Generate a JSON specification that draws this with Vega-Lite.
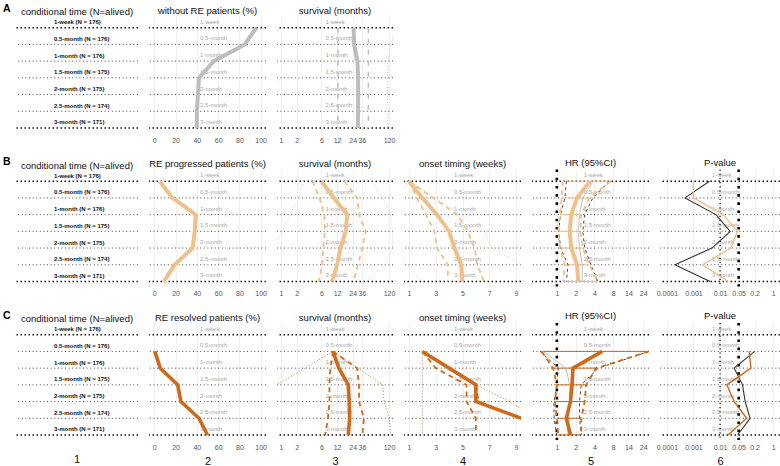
{
"$schema":"https://vega.github.io/schema/vega-lite/v6.json",
"padding":{"left":2,"top":3,"right":0,"bottom":0},
"config":{"font":"Liberation Sans","view":{"stroke":null},
"axisX":{"domain":false,"ticks":false,"grid":true,"gridColor":"#e4e4e4","gridWidth":0.6,"labelFontSize":7,"labelColor":"#555","labelPadding":3,"labelOverlap":false,"labelFlush":false,"tickCount":12,"titleFontSize":11,"titleFontWeight":"normal","titleColor":"#111","titlePadding":5},
"title":{"fontSize":9.5,"fontWeight":"normal","color":"#111","offset":1,"frame":"group"}},
"datasets":{
"cats":[{"k":1,"c":"1-week","n":"1-week (N = 176)"},{"k":2,"c":"0.5-month","n":"0.5-month (N = 176)"},{"k":3,"c":"1-month","n":"1-month (N = 176)"},{"k":4,"c":"1.5-month","n":"1.5-month (N = 175)"},{"k":5,"c":"2-month","n":"2-month (N = 175)"},{"k":6,"c":"2.5-month","n":"2.5-month (N = 174)"},{"k":7,"c":"3-month","n":"3-month (N = 171)"}],
"A_pct":[{"k":1,"e":96},{"k":2,"e":85},{"k":3,"e":56},{"k":4,"e":42},{"k":5,"e":41},{"k":6,"e":40},{"k":7,"e":40}],
"A_surv":[{"k":1,"e":25,"lo":12.5,"hi":48,"mn":0.95,"mx":150},{"k":2,"e":25.5,"lo":12.5,"hi":48,"mn":0.5,"mx":135},{"k":3,"e":29.5,"lo":12.5,"hi":48,"mn":0.5,"mx":113},{"k":4,"e":30.5,"lo":12.5,"hi":48,"mn":1.0,"mx":113},{"k":5,"e":30.5,"lo":12.5,"hi":48,"mn":0.5,"mx":113},{"k":6,"e":30.5,"lo":12.5,"hi":48,"mn":0.5,"mx":113},{"k":7,"e":30,"lo":12.5,"hi":48,"mn":0.5,"mx":113}],
"B_pct":[{"k":1,"e":5},{"k":2,"e":17},{"k":3,"e":39},{"k":4,"e":38},{"k":5,"e":36},{"k":6,"e":19},{"k":7,"e":9}],
"B_surv":[{"k":1,"e":6,"lo":4,"hi":16.5,"mn":2.7,"mx":58},{"k":2,"e":10.4,"lo":5.5,"hi":29.5,"mn":2.2,"mx":90},{"k":3,"e":18.8,"lo":6.8,"hi":31.7,"mn":1.5,"mx":130},{"k":4,"e":17.5,"lo":7,"hi":42.8,"mn":1.03,"mx":140},{"k":5,"e":14,"lo":6.5,"hi":36.7,"mn":0.7,"mx":140},{"k":6,"e":12,"lo":6.2,"hi":30,"mn":0.6,"mx":97},{"k":7,"e":9.6,"lo":5.3,"hi":25.3,"mn":0.6,"mx":46}],
"B_on":[{"k":1,"e":1,"lo":1,"hi":1,"mn":1,"mx":1},{"k":2,"e":2,"lo":1.6,"hi":2.8,"mn":0.3,"mx":3.0},{"k":3,"e":3.1,"lo":2.25,"hi":4.6,"mn":0.3,"mx":4.9},{"k":4,"e":4,"lo":2.9,"hi":5.4,"mn":0.3,"mx":6.6},{"k":5,"e":4.4,"lo":3.1,"hi":5.9,"mn":0.3,"mx":7.2},{"k":6,"e":4.9,"lo":3.9,"hi":6.1,"mn":0.85,"mx":9.4},{"k":7,"e":5,"lo":3.9,"hi":6.6,"mn":2.0,"mx":11}],
"B_hr":[{"k":1,"e":3.4,"lo":1.25,"hi":7.3,"klo":1.42,"khi":6.9,"g":3.8},{"k":2,"e":2.1,"lo":1.19,"hi":3.3,"klo":1.34,"khi":3.77,"g":2.6},{"k":3,"e":1.7,"lo":1.12,"hi":2.46,"klo":1.14,"khi":2.78,"g":2.3},{"k":4,"e":1.6,"lo":1.05,"hi":2.37,"klo":1.07,"khi":2.6,"g":2.2},{"k":5,"e":1.7,"lo":1.12,"hi":2.6,"klo":1.15,"khi":2.78,"g":2.3},{"k":6,"e":2.1,"lo":1.34,"hi":3.3,"klo":1.51,"khi":3.5,"g":2.55},{"k":7,"e":2.2,"lo":1.25,"hi":4.5,"klo":1.42,"khi":4.5,"g":2.55}],
"B_p":[{"k":1,"o":0.001,"b":0.004},{"k":2,"o":0.001,"b":0.00048},{"k":3,"o":0.013,"b":0.007},{"k":4,"o":0.045,"b":0.024},{"k":5,"o":0.026,"b":0.005},{"k":6,"o":0.0022,"b":0.0002},{"k":7,"o":0.02,"b":0.0042}],
"C_pct":[{"k":2,"e":0.5},{"k":3,"e":5.5},{"k":4,"e":22},{"k":5,"e":25},{"k":6,"e":42},{"k":7,"e":50}],
"C_surv":[{"k":2,"e":10,"lo":10,"hi":10,"mn":10,"mx":10},{"k":3,"e":13,"lo":8.9,"hi":29,"mn":2.9,"mx":29.5},{"k":4,"e":19.7,"lo":8.5,"hi":31.7,"mn":0.82,"mx":90},{"k":5,"e":20.5,"lo":8.6,"hi":31.7,"mn":0.5,"mx":97},{"k":6,"e":20.9,"lo":8,"hi":39.5,"mn":0.5,"mx":121},{"k":7,"e":19.7,"lo":7.1,"hi":36.7,"mn":0.5,"mx":130}],
"C_on":[{"k":2,"e":2,"lo":2,"hi":2,"mn":2,"mx":2},{"k":3,"e":4,"lo":3.0,"hi":4,"mn":2,"mx":4},{"k":4,"e":6,"lo":5.3,"hi":6,"mn":2,"mx":6},{"k":5,"e":6,"lo":5.3,"hi":6.2,"mn":2,"mx":8.5},{"k":6,"e":9.4,"lo":6.0,"hi":9.3,"mn":2,"mx":10.6},{"k":7,"e":null,"lo":6.0,"hi":null,"mn":2,"mx":null}],
"C_hr":[{"k":2,"e":5.3,"lo":0.57,"hi":29.8,"klo":0.54,"khi":30,"g":0.6},{"k":3,"e":1.81,"lo":0.87,"hi":4.26,"klo":1.05,"khi":4.6,"g":1.4},{"k":4,"e":1.75,"lo":1.0,"hi":2.95,"klo":1.0,"khi":2.46,"g":1.6},{"k":5,"e":1.65,"lo":0.93,"hi":2.78,"klo":0.9,"khi":2.3,"g":1.6},{"k":6,"e":1.42,"lo":1.0,"hi":2.46,"klo":0.9,"khi":2.3,"g":1.5},{"k":7,"e":1.65,"lo":1.05,"hi":2.46,"klo":1.0,"khi":2.46,"g":1.5}],
"C_p":[{"k":2,"o":0.125,"b":0.2},{"k":3,"o":0.145,"b":0.034},{"k":4,"o":0.018,"b":0.07},{"k":5,"o":0.034,"b":0.088},{"k":6,"o":0.1,"b":0.135},{"k":7,"o":0.02,"b":0.046}]
},
"columns":6,"spacing":{"row":36.5,"column":11},"bounds":"flush","align":"each",
"concat":[
  {"width":122,"height":117,"title":{"text":"conditional time (N=alived)","offset":-13},"layer":[
   {"data":{"name":"cats"},"transform":[{"filter":"datum.k>1&&datum.k<7"}],"mark":{"type":"rule","color":"#333","strokeWidth":0.9,"strokeDash":[1,2.6]},"encoding":{"y":{"field":"k","type":"quantitative","scale":{"domain":[0.3,7.3],"reverse":true,"nice":false},"axis":null}}},
   {"data":{"name":"cats"},"transform":[{"filter":"datum.k==1||datum.k==7"}],"mark":{"type":"rule","color":"#111","strokeWidth":1.5,"strokeDash":[1.5,2.5]},"encoding":{"y":{"field":"k","type":"quantitative","scale":{"domain":[0.3,7.3],"reverse":true,"nice":false},"axis":null}}},
   {"data":{"name":"cats"},"mark":{"type":"text","align":"left","baseline":"middle","dy":-5.5,"fontSize":6,"fontWeight":"bold","color":"#111"},"encoding":{"x":{"datum":0.311,"type":"quantitative","scale":{"domain":[0,1]},"axis":null},"y":{"field":"k","type":"quantitative","scale":{"domain":[0.3,7.3],"reverse":true,"nice":false},"axis":null},"text":{"field":"n"}}},
   {"data":{"values":[{"t":"A"}]},"mark":{"type":"text","align":"left","baseline":"middle","fontSize":10.5,"fontWeight":"bold","color":"#000"},"encoding":{"x":{"datum":-0.107,"type":"quantitative","scale":{"domain":[0,1]},"axis":null},"y":{"datum":-0.14,"type":"quantitative","scale":{"domain":[0.3,7.3],"reverse":true,"nice":false},"axis":null},"text":{"field":"t"}}}
  ]},
  {"width":117,"height":117,"title":"without RE patients (%)","layer":[
   {"data":{"name":"cats"},"transform":[{"filter":"datum.k>1&&datum.k<7"}],"mark":{"type":"rule","color":"#333","strokeWidth":0.9,"strokeDash":[1,2.6]},"encoding":{"y":{"field":"k","type":"quantitative","scale":{"domain":[0.3,7.3],"reverse":true,"nice":false},"axis":null}}},
   {"data":{"name":"cats"},"transform":[{"filter":"datum.k==1||datum.k==7"}],"mark":{"type":"rule","color":"#111","strokeWidth":1.5,"strokeDash":[1.5,2.5]},"encoding":{"y":{"field":"k","type":"quantitative","scale":{"domain":[0.3,7.3],"reverse":true,"nice":false},"axis":null}}},
   {"data":{"name":"cats"},"mark":{"type":"text","align":"left","baseline":"middle","dy":-6,"fontSize":6,"color":"#a6a6a6"},"encoding":{"x":{"datum":43,"type":"quantitative","scale":{"domain":[-5,105],"nice":false,"zero":false}},"y":{"field":"k","type":"quantitative","scale":{"domain":[0.3,7.3],"reverse":true,"nice":false},"axis":null},"text":{"field":"c"}}},
   {"data":{"name":"A_pct"},"mark":{"type":"line","color":"#BDBDBD","strokeWidth":4,"clip":true},"encoding":{"x":{"field":"e","type":"quantitative","scale":{"domain":[-5,105],"nice":false,"zero":false},"axis":{"values":[0,20,40,60,80,100]},"title":null},"y":{"field":"k","type":"quantitative","scale":{"domain":[0.3,7.3],"reverse":true,"nice":false},"axis":null},"order":{"field":"k"}}}
  ]},
 {"width":116,"height":117,"title":"survival (months)","layer":[
  {"data":{"name":"cats"},"transform":[{"filter":"datum.k>1&&datum.k<7"}],"mark":{"type":"rule","color":"#333","strokeWidth":0.9,"strokeDash":[1,2.6]},"encoding":{"y":{"field":"k","type":"quantitative","scale":{"domain":[0.3,7.3],"reverse":true,"nice":false},"axis":null}}},
  {"data":{"name":"cats"},"transform":[{"filter":"datum.k==1||datum.k==7"}],"mark":{"type":"rule","color":"#111","strokeWidth":1.5,"strokeDash":[1.5,2.5]},"encoding":{"y":{"field":"k","type":"quantitative","scale":{"domain":[0.3,7.3],"reverse":true,"nice":false},"axis":null}}},
  {"data":{"name":"cats"},"mark":{"type":"text","align":"left","baseline":"middle","dy":-6,"fontSize":6,"color":"#a6a6a6"},"encoding":{"x":{"datum":7.15,"type":"quantitative","scale":{"type":"log","domain":[0.836,143],"nice":false}},"y":{"field":"k","type":"quantitative","scale":{"domain":[0.3,7.3],"reverse":true,"nice":false},"axis":null},"text":{"field":"c"}}},
  {"data":{"name":"A_surv"},"mark":{"type":"line","color":"#BDBDBD","strokeWidth":0.9,"strokeDash":[1,2],"clip":true},"encoding":{"x":{"field":"mn","type":"quantitative","scale":{"type":"log","domain":[0.836,143],"nice":false}},"y":{"field":"k","type":"quantitative","scale":{"domain":[0.3,7.3],"reverse":true,"nice":false},"axis":null},"order":{"field":"k"}}},
  {"data":{"name":"A_surv"},"mark":{"type":"line","color":"#BDBDBD","strokeWidth":0.9,"strokeDash":[1,2],"clip":true},"encoding":{"x":{"field":"mx","type":"quantitative","scale":{"type":"log","domain":[0.836,143],"nice":false}},"y":{"field":"k","type":"quantitative","scale":{"domain":[0.3,7.3],"reverse":true,"nice":false},"axis":null},"order":{"field":"k"}}},
  {"data":{"name":"A_surv"},"mark":{"type":"line","color":"#BDBDBD","strokeWidth":1.5,"strokeDash":[5,6],"clip":true},"encoding":{"x":{"field":"lo","type":"quantitative","scale":{"type":"log","domain":[0.836,143],"nice":false}},"y":{"field":"k","type":"quantitative","scale":{"domain":[0.3,7.3],"reverse":true,"nice":false},"axis":null},"order":{"field":"k"}}},
  {"data":{"name":"A_surv"},"mark":{"type":"line","color":"#BDBDBD","strokeWidth":1.5,"strokeDash":[5,6],"clip":true},"encoding":{"x":{"field":"hi","type":"quantitative","scale":{"type":"log","domain":[0.836,143],"nice":false}},"y":{"field":"k","type":"quantitative","scale":{"domain":[0.3,7.3],"reverse":true,"nice":false},"axis":null},"order":{"field":"k"}}},
  {"data":{"name":"A_surv"},"mark":{"type":"line","color":"#BDBDBD","strokeWidth":4,"clip":true},"encoding":{"x":{"field":"e","type":"quantitative","scale":{"type":"log","domain":[0.836,143],"nice":false},"axis":{"values":[1,2,6,12,24,36,120],"format":"~g"},"title":null},"y":{"field":"k","type":"quantitative","scale":{"domain":[0.3,7.3],"reverse":true,"nice":false},"axis":null},"order":{"field":"k"}}}
 ]},
 {"width":117,"height":117,"data":{"values":[]},"mark":"rule","encoding":{}},
 {"width":117,"height":117,"data":{"values":[]},"mark":"rule","encoding":{}},
 {"width":120,"height":117,"data":{"values":[]},"mark":"rule","encoding":{}},
  {"width":122,"height":117,"title":{"text":"conditional time (N=alived)","offset":-13},"layer":[
   {"data":{"name":"cats"},"transform":[{"filter":"datum.k>1&&datum.k<7"}],"mark":{"type":"rule","color":"#333","strokeWidth":0.9,"strokeDash":[1,2.6]},"encoding":{"y":{"field":"k","type":"quantitative","scale":{"domain":[0.3,7.3],"reverse":true,"nice":false},"axis":null}}},
   {"data":{"name":"cats"},"transform":[{"filter":"datum.k==1||datum.k==7"}],"mark":{"type":"rule","color":"#111","strokeWidth":1.5,"strokeDash":[1.5,2.5]},"encoding":{"y":{"field":"k","type":"quantitative","scale":{"domain":[0.3,7.3],"reverse":true,"nice":false},"axis":null}}},
   {"data":{"name":"cats"},"mark":{"type":"text","align":"left","baseline":"middle","dy":-5.5,"fontSize":6,"fontWeight":"bold","color":"#111"},"encoding":{"x":{"datum":0.311,"type":"quantitative","scale":{"domain":[0,1]},"axis":null},"y":{"field":"k","type":"quantitative","scale":{"domain":[0.3,7.3],"reverse":true,"nice":false},"axis":null},"text":{"field":"n"}}},
   {"data":{"values":[{"t":"B"}]},"mark":{"type":"text","align":"left","baseline":"middle","fontSize":10.5,"fontWeight":"bold","color":"#000"},"encoding":{"x":{"datum":-0.107,"type":"quantitative","scale":{"domain":[0,1]},"axis":null},"y":{"datum":-0.14,"type":"quantitative","scale":{"domain":[0.3,7.3],"reverse":true,"nice":false},"axis":null},"text":{"field":"t"}}}
  ]},
  {"width":117,"height":117,"title":"RE progressed patients (%)","layer":[
   {"data":{"name":"cats"},"transform":[{"filter":"datum.k>1&&datum.k<7"}],"mark":{"type":"rule","color":"#333","strokeWidth":0.9,"strokeDash":[1,2.6]},"encoding":{"y":{"field":"k","type":"quantitative","scale":{"domain":[0.3,7.3],"reverse":true,"nice":false},"axis":null}}},
   {"data":{"name":"cats"},"transform":[{"filter":"datum.k==1||datum.k==7"}],"mark":{"type":"rule","color":"#111","strokeWidth":1.5,"strokeDash":[1.5,2.5]},"encoding":{"y":{"field":"k","type":"quantitative","scale":{"domain":[0.3,7.3],"reverse":true,"nice":false},"axis":null}}},
   {"data":{"name":"cats"},"mark":{"type":"text","align":"left","baseline":"middle","dy":-6,"fontSize":6,"color":"#a6a6a6"},"encoding":{"x":{"datum":43,"type":"quantitative","scale":{"domain":[-5,105],"nice":false,"zero":false}},"y":{"field":"k","type":"quantitative","scale":{"domain":[0.3,7.3],"reverse":true,"nice":false},"axis":null},"text":{"field":"c"}}},
   {"data":{"name":"B_pct"},"mark":{"type":"line","color":"#F0C08A","strokeWidth":4,"clip":true},"encoding":{"x":{"field":"e","type":"quantitative","scale":{"domain":[-5,105],"nice":false,"zero":false},"axis":{"values":[0,20,40,60,80,100]},"title":null},"y":{"field":"k","type":"quantitative","scale":{"domain":[0.3,7.3],"reverse":true,"nice":false},"axis":null},"order":{"field":"k"}}}
  ]},
  {"width":116,"height":117,"title":"survival (months)","layer":[
   {"data":{"name":"cats"},"transform":[{"filter":"datum.k>1&&datum.k<7"}],"mark":{"type":"rule","color":"#333","strokeWidth":0.9,"strokeDash":[1,2.6]},"encoding":{"y":{"field":"k","type":"quantitative","scale":{"domain":[0.3,7.3],"reverse":true,"nice":false},"axis":null}}},
   {"data":{"name":"cats"},"transform":[{"filter":"datum.k==1||datum.k==7"}],"mark":{"type":"rule","color":"#111","strokeWidth":1.5,"strokeDash":[1.5,2.5]},"encoding":{"y":{"field":"k","type":"quantitative","scale":{"domain":[0.3,7.3],"reverse":true,"nice":false},"axis":null}}},
   {"data":{"name":"cats"},"mark":{"type":"text","align":"left","baseline":"middle","dy":-6,"fontSize":6,"color":"#a6a6a6"},"encoding":{"x":{"datum":7.15,"type":"quantitative","scale":{"type":"log","domain":[0.836,143],"nice":false}},"y":{"field":"k","type":"quantitative","scale":{"domain":[0.3,7.3],"reverse":true,"nice":false},"axis":null},"text":{"field":"c"}}},
   {"data":{"name":"B_surv"},"mark":{"type":"line","color":"#F0C08A","strokeWidth":0.9,"strokeDash":[1,2],"clip":true},"encoding":{"x":{"field":"mn","type":"quantitative","scale":{"type":"log","domain":[0.836,143],"nice":false}},"y":{"field":"k","type":"quantitative","scale":{"domain":[0.3,7.3],"reverse":true,"nice":false},"axis":null},"order":{"field":"k"}}},
   {"data":{"name":"B_surv"},"mark":{"type":"line","color":"#F0C08A","strokeWidth":0.9,"strokeDash":[1,2],"clip":true},"encoding":{"x":{"field":"mx","type":"quantitative","scale":{"type":"log","domain":[0.836,143],"nice":false}},"y":{"field":"k","type":"quantitative","scale":{"domain":[0.3,7.3],"reverse":true,"nice":false},"axis":null},"order":{"field":"k"}}},
   {"data":{"name":"B_surv"},"mark":{"type":"line","color":"#F0C08A","strokeWidth":1.8,"strokeDash":[5,4],"clip":true},"encoding":{"x":{"field":"lo","type":"quantitative","scale":{"type":"log","domain":[0.836,143],"nice":false}},"y":{"field":"k","type":"quantitative","scale":{"domain":[0.3,7.3],"reverse":true,"nice":false},"axis":null},"order":{"field":"k"}}},
   {"data":{"name":"B_surv"},"mark":{"type":"line","color":"#F0C08A","strokeWidth":1.8,"strokeDash":[5,4],"clip":true},"encoding":{"x":{"field":"hi","type":"quantitative","scale":{"type":"log","domain":[0.836,143],"nice":false}},"y":{"field":"k","type":"quantitative","scale":{"domain":[0.3,7.3],"reverse":true,"nice":false},"axis":null},"order":{"field":"k"}}},
   {"data":{"name":"B_surv"},"mark":{"type":"line","color":"#F0C08A","strokeWidth":4,"clip":true},"encoding":{"x":{"field":"e","type":"quantitative","scale":{"type":"log","domain":[0.836,143],"nice":false},"axis":{"values":[1,2,6,12,24,36,120],"format":"~g"},"title":null},"y":{"field":"k","type":"quantitative","scale":{"domain":[0.3,7.3],"reverse":true,"nice":false},"axis":null},"order":{"field":"k"}}}
  ]},
  {"width":117,"height":117,"title":"onset timing (weeks)","layer":[
   {"data":{"name":"cats"},"transform":[{"filter":"datum.k>1&&datum.k<7"}],"mark":{"type":"rule","color":"#333","strokeWidth":0.9,"strokeDash":[1,2.6]},"encoding":{"y":{"field":"k","type":"quantitative","scale":{"domain":[0.3,7.3],"reverse":true,"nice":false},"axis":null}}},
   {"data":{"name":"cats"},"transform":[{"filter":"datum.k==1||datum.k==7"}],"mark":{"type":"rule","color":"#111","strokeWidth":1.5,"strokeDash":[1.5,2.5]},"encoding":{"y":{"field":"k","type":"quantitative","scale":{"domain":[0.3,7.3],"reverse":true,"nice":false},"axis":null}}},
   {"data":{"name":"cats"},"mark":{"type":"text","align":"left","baseline":"middle","dy":-6,"fontSize":6,"color":"#a6a6a6"},"encoding":{"x":{"datum":4.36,"type":"quantitative","scale":{"domain":[0.63,9.37],"nice":false,"zero":false}},"y":{"field":"k","type":"quantitative","scale":{"domain":[0.3,7.3],"reverse":true,"nice":false},"axis":null},"text":{"field":"c"}}},
   {"data":{"name":"B_on"},"mark":{"type":"line","color":"#F0C08A","strokeWidth":0.9,"strokeDash":[1,2],"clip":true},"encoding":{"x":{"field":"mn","type":"quantitative","scale":{"domain":[0.63,9.37],"nice":false,"zero":false}},"y":{"field":"k","type":"quantitative","scale":{"domain":[0.3,7.3],"reverse":true,"nice":false},"axis":null},"order":{"field":"k"}}},
   {"data":{"name":"B_on"},"mark":{"type":"line","color":"#F0C08A","strokeWidth":0.9,"strokeDash":[1,2],"clip":true},"encoding":{"x":{"field":"mx","type":"quantitative","scale":{"domain":[0.63,9.37],"nice":false,"zero":false}},"y":{"field":"k","type":"quantitative","scale":{"domain":[0.3,7.3],"reverse":true,"nice":false},"axis":null},"order":{"field":"k"}}},
   {"data":{"name":"B_on"},"mark":{"type":"line","color":"#F0C08A","strokeWidth":1.8,"strokeDash":[5,4],"clip":true},"encoding":{"x":{"field":"lo","type":"quantitative","scale":{"domain":[0.63,9.37],"nice":false,"zero":false}},"y":{"field":"k","type":"quantitative","scale":{"domain":[0.3,7.3],"reverse":true,"nice":false},"axis":null},"order":{"field":"k"}}},
   {"data":{"name":"B_on"},"mark":{"type":"line","color":"#F0C08A","strokeWidth":1.8,"strokeDash":[5,4],"clip":true},"encoding":{"x":{"field":"hi","type":"quantitative","scale":{"domain":[0.63,9.37],"nice":false,"zero":false}},"y":{"field":"k","type":"quantitative","scale":{"domain":[0.3,7.3],"reverse":true,"nice":false},"axis":null},"order":{"field":"k"}}},
   {"data":{"name":"B_on"},"mark":{"type":"line","color":"#F0C08A","strokeWidth":4,"clip":true},"encoding":{"x":{"field":"e","type":"quantitative","scale":{"domain":[0.63,9.37],"nice":false,"zero":false},"axis":{"values":[1,3,5,7,9]},"title":null},"y":{"field":"k","type":"quantitative","scale":{"domain":[0.3,7.3],"reverse":true,"nice":false},"axis":null},"order":{"field":"k"}}}
  ]},
  {"width":117,"height":117,"title":"HR (95%CI)","layer":[
   {"data":{"name":"cats"},"transform":[{"filter":"datum.k>1&&datum.k<7"}],"mark":{"type":"rule","color":"#333","strokeWidth":0.9,"strokeDash":[1,2.6]},"encoding":{"y":{"field":"k","type":"quantitative","scale":{"domain":[0.3,7.3],"reverse":true,"nice":false},"axis":null}}},
   {"data":{"name":"cats"},"transform":[{"filter":"datum.k==1||datum.k==7"}],"mark":{"type":"rule","color":"#111","strokeWidth":1.5,"strokeDash":[1.5,2.5]},"encoding":{"y":{"field":"k","type":"quantitative","scale":{"domain":[0.3,7.3],"reverse":true,"nice":false},"axis":null}}},
   {"data":{"name":"cats"},"mark":{"type":"text","align":"left","baseline":"middle","dy":-6,"fontSize":6,"color":"#a6a6a6"},"encoding":{"x":{"datum":2.68,"type":"quantitative","scale":{"type":"log","domain":[0.4,29.8],"nice":false}},"y":{"field":"k","type":"quantitative","scale":{"domain":[0.3,7.3],"reverse":true,"nice":false},"axis":null},"text":{"field":"c"}}},
   {"data":{"values":[{}]},"mark":{"type":"rule","color":"#000","strokeWidth":2.6,"strokeDash":[2.6,5.6]},"encoding":{"x":{"datum":1,"type":"quantitative","scale":{"type":"log","domain":[0.4,29.8],"nice":false}}}},
   {"data":{"name":"B_hr"},"mark":{"type":"rule","color":"#F0C08A","strokeWidth":1},"encoding":{"x":{"field":"lo","type":"quantitative","scale":{"type":"log","domain":[0.4,29.8],"nice":false}},"x2":{"field":"hi"},"y":{"field":"k","type":"quantitative","scale":{"domain":[0.3,7.3],"reverse":true,"nice":false},"axis":null}}},
   {"data":{"name":"B_hr"},"mark":{"type":"line","color":"#333","strokeWidth":0.9,"strokeDash":[3,3],"clip":true},"encoding":{"x":{"field":"klo","type":"quantitative","scale":{"type":"log","domain":[0.4,29.8],"nice":false}},"y":{"field":"k","type":"quantitative","scale":{"domain":[0.3,7.3],"reverse":true,"nice":false},"axis":null},"order":{"field":"k"}}},
   {"data":{"name":"B_hr"},"mark":{"type":"line","color":"#333","strokeWidth":0.9,"strokeDash":[3,3],"clip":true},"encoding":{"x":{"field":"khi","type":"quantitative","scale":{"type":"log","domain":[0.4,29.8],"nice":false}},"y":{"field":"k","type":"quantitative","scale":{"domain":[0.3,7.3],"reverse":true,"nice":false},"axis":null},"order":{"field":"k"}}},
   {"data":{"name":"B_hr"},"mark":{"type":"line","color":"#bbbbbb","strokeWidth":0.9,"clip":true},"encoding":{"x":{"field":"g","type":"quantitative","scale":{"type":"log","domain":[0.4,29.8],"nice":false}},"y":{"field":"k","type":"quantitative","scale":{"domain":[0.3,7.3],"reverse":true,"nice":false},"axis":null},"order":{"field":"k"}}},
   {"data":{"name":"B_hr"},"mark":{"type":"line","color":"#F0C08A","strokeWidth":1.8,"strokeDash":[5,4],"clip":true},"encoding":{"x":{"field":"lo","type":"quantitative","scale":{"type":"log","domain":[0.4,29.8],"nice":false}},"y":{"field":"k","type":"quantitative","scale":{"domain":[0.3,7.3],"reverse":true,"nice":false},"axis":null},"order":{"field":"k"}}},
   {"data":{"name":"B_hr"},"mark":{"type":"line","color":"#F0C08A","strokeWidth":1.8,"strokeDash":[5,4],"clip":true},"encoding":{"x":{"field":"hi","type":"quantitative","scale":{"type":"log","domain":[0.4,29.8],"nice":false}},"y":{"field":"k","type":"quantitative","scale":{"domain":[0.3,7.3],"reverse":true,"nice":false},"axis":null},"order":{"field":"k"}}},
   {"data":{"name":"B_hr"},"mark":{"type":"line","color":"#F0C08A","strokeWidth":4,"clip":true},"encoding":{"x":{"field":"e","type":"quantitative","scale":{"type":"log","domain":[0.4,29.8],"nice":false},"axis":{"values":[1,2,4,8,14,24],"format":"~g"},"title":null},"y":{"field":"k","type":"quantitative","scale":{"domain":[0.3,7.3],"reverse":true,"nice":false},"axis":null},"order":{"field":"k"}}}
  ]},
  {"width":120,"height":117,"title":"P-value","layer":[
   {"data":{"name":"cats"},"transform":[{"filter":"datum.k>1&&datum.k<7"}],"mark":{"type":"rule","color":"#333","strokeWidth":0.9,"strokeDash":[1,2.6]},"encoding":{"y":{"field":"k","type":"quantitative","scale":{"domain":[0.3,7.3],"reverse":true,"nice":false},"axis":null}}},
   {"data":{"name":"cats"},"transform":[{"filter":"datum.k==1||datum.k==7"}],"mark":{"type":"rule","color":"#111","strokeWidth":1.5,"strokeDash":[1.5,2.5]},"encoding":{"y":{"field":"k","type":"quantitative","scale":{"domain":[0.3,7.3],"reverse":true,"nice":false},"axis":null}}},
   {"data":{"name":"cats"},"mark":{"type":"text","align":"left","baseline":"middle","dy":-6,"fontSize":6,"color":"#a6a6a6"},"encoding":{"x":{"datum":0.005,"type":"quantitative","scale":{"type":"log","domain":[0.000055,1.8],"nice":false}},"y":{"field":"k","type":"quantitative","scale":{"domain":[0.3,7.3],"reverse":true,"nice":false},"axis":null},"text":{"field":"c"}}},
   {"data":{"values":[{}]},"mark":{"type":"rule","color":"#000","strokeWidth":1.2,"strokeDash":[1.2,3]},"encoding":{"x":{"datum":0.01,"type":"quantitative","scale":{"type":"log","domain":[0.000055,1.8],"nice":false}}}},
   {"data":{"values":[{}]},"mark":{"type":"rule","color":"#000","strokeWidth":2.6,"strokeDash":[2.6,5.6]},"encoding":{"x":{"datum":0.05,"type":"quantitative","scale":{"type":"log","domain":[0.000055,1.8],"nice":false}}}},
   {"data":{"name":"B_p"},"mark":{"type":"line","color":"#333","strokeWidth":1.1,"clip":true},"encoding":{"x":{"field":"b","type":"quantitative","scale":{"type":"log","domain":[0.000055,1.8],"nice":false},"axis":{"values":[0.0001,0.001,0.01,0.05,0.2,1],"format":"~g"},"title":null},"y":{"field":"k","type":"quantitative","scale":{"domain":[0.3,7.3],"reverse":true,"nice":false},"axis":null},"order":{"field":"k"}}},
   {"data":{"name":"B_p"},"mark":{"type":"line","color":"#F0C08A","strokeWidth":1.4,"clip":true},"encoding":{"x":{"field":"o","type":"quantitative","scale":{"type":"log","domain":[0.000055,1.8],"nice":false}},"y":{"field":"k","type":"quantitative","scale":{"domain":[0.3,7.3],"reverse":true,"nice":false},"axis":null},"order":{"field":"k"}}}
  ]},
  {"width":122,"height":117,"title":{"text":"conditional time (N=alived)","offset":-13},"layer":[
   {"data":{"name":"cats"},"transform":[{"filter":"datum.k>1&&datum.k<7"}],"mark":{"type":"rule","color":"#333","strokeWidth":0.9,"strokeDash":[1,2.6]},"encoding":{"y":{"field":"k","type":"quantitative","scale":{"domain":[0.3,7.3],"reverse":true,"nice":false},"axis":null}}},
   {"data":{"name":"cats"},"transform":[{"filter":"datum.k==1||datum.k==7"}],"mark":{"type":"rule","color":"#111","strokeWidth":1.5,"strokeDash":[1.5,2.5]},"encoding":{"y":{"field":"k","type":"quantitative","scale":{"domain":[0.3,7.3],"reverse":true,"nice":false},"axis":null}}},
   {"data":{"name":"cats"},"mark":{"type":"text","align":"left","baseline":"middle","dy":-5.5,"fontSize":6,"fontWeight":"bold","color":"#111"},"encoding":{"x":{"datum":0.311,"type":"quantitative","scale":{"domain":[0,1]},"axis":null},"y":{"field":"k","type":"quantitative","scale":{"domain":[0.3,7.3],"reverse":true,"nice":false},"axis":null},"text":{"field":"n"}}},
   {"data":{"values":[{"t":"C"}]},"mark":{"type":"text","align":"left","baseline":"middle","fontSize":10.5,"fontWeight":"bold","color":"#000"},"encoding":{"x":{"datum":-0.107,"type":"quantitative","scale":{"domain":[0,1]},"axis":null},"y":{"datum":-0.14,"type":"quantitative","scale":{"domain":[0.3,7.3],"reverse":true,"nice":false},"axis":null},"text":{"field":"t"}}},
   {"data":{"values":[{"t":"1"}]},"mark":{"type":"text","align":"center","baseline":"middle","fontSize":11,"color":"#111"},"encoding":{"x":{"datum":0.5,"type":"quantitative","scale":{"domain":[0,1]},"axis":null},"y":{"datum":8.48,"type":"quantitative","scale":{"domain":[0.3,7.3],"reverse":true,"nice":false},"axis":null},"text":{"field":"t"}}}
  ]},
  {"width":117,"height":117,"title":"RE resolved patients (%)","layer":[
   {"data":{"name":"cats"},"transform":[{"filter":"datum.k>1&&datum.k<7"}],"mark":{"type":"rule","color":"#333","strokeWidth":0.9,"strokeDash":[1,2.6]},"encoding":{"y":{"field":"k","type":"quantitative","scale":{"domain":[0.3,7.3],"reverse":true,"nice":false},"axis":null}}},
   {"data":{"name":"cats"},"transform":[{"filter":"datum.k==1||datum.k==7"}],"mark":{"type":"rule","color":"#111","strokeWidth":1.5,"strokeDash":[1.5,2.5]},"encoding":{"y":{"field":"k","type":"quantitative","scale":{"domain":[0.3,7.3],"reverse":true,"nice":false},"axis":null}}},
   {"data":{"name":"cats"},"mark":{"type":"text","align":"left","baseline":"middle","dy":-6,"fontSize":6,"color":"#a6a6a6"},"encoding":{"x":{"datum":43,"type":"quantitative","scale":{"domain":[-5,105],"nice":false,"zero":false}},"y":{"field":"k","type":"quantitative","scale":{"domain":[0.3,7.3],"reverse":true,"nice":false},"axis":null},"text":{"field":"c"}}},
   {"data":{"name":"C_pct"},"mark":{"type":"line","color":"#CD6A1B","strokeWidth":3.6,"clip":true},"encoding":{"x":{"field":"e","type":"quantitative","scale":{"domain":[-5,105],"nice":false,"zero":false},"axis":{"values":[0,20,40,60,80,100]},"title":"2"},"y":{"field":"k","type":"quantitative","scale":{"domain":[0.3,7.3],"reverse":true,"nice":false},"axis":null},"order":{"field":"k"}}}
  ]},
  {"width":116,"height":117,"title":"survival (months)","layer":[
   {"data":{"name":"cats"},"transform":[{"filter":"datum.k>1&&datum.k<7"}],"mark":{"type":"rule","color":"#333","strokeWidth":0.9,"strokeDash":[1,2.6]},"encoding":{"y":{"field":"k","type":"quantitative","scale":{"domain":[0.3,7.3],"reverse":true,"nice":false},"axis":null}}},
   {"data":{"name":"cats"},"transform":[{"filter":"datum.k==1||datum.k==7"}],"mark":{"type":"rule","color":"#111","strokeWidth":1.5,"strokeDash":[1.5,2.5]},"encoding":{"y":{"field":"k","type":"quantitative","scale":{"domain":[0.3,7.3],"reverse":true,"nice":false},"axis":null}}},
   {"data":{"name":"cats"},"mark":{"type":"text","align":"left","baseline":"middle","dy":-6,"fontSize":6,"color":"#a6a6a6"},"encoding":{"x":{"datum":7.15,"type":"quantitative","scale":{"type":"log","domain":[0.836,143],"nice":false}},"y":{"field":"k","type":"quantitative","scale":{"domain":[0.3,7.3],"reverse":true,"nice":false},"axis":null},"text":{"field":"c"}}},
   {"data":{"name":"C_surv"},"mark":{"type":"line","color":"#CD6A1B","strokeWidth":0.9,"strokeDash":[1,2],"clip":true},"encoding":{"x":{"field":"mn","type":"quantitative","scale":{"type":"log","domain":[0.836,143],"nice":false}},"y":{"field":"k","type":"quantitative","scale":{"domain":[0.3,7.3],"reverse":true,"nice":false},"axis":null},"order":{"field":"k"}}},
   {"data":{"name":"C_surv"},"mark":{"type":"line","color":"#CD6A1B","strokeWidth":0.9,"strokeDash":[1,2],"clip":true},"encoding":{"x":{"field":"mx","type":"quantitative","scale":{"type":"log","domain":[0.836,143],"nice":false}},"y":{"field":"k","type":"quantitative","scale":{"domain":[0.3,7.3],"reverse":true,"nice":false},"axis":null},"order":{"field":"k"}}},
   {"data":{"name":"C_surv"},"mark":{"type":"line","color":"#CD6A1B","strokeWidth":1.8,"strokeDash":[5,4],"clip":true},"encoding":{"x":{"field":"lo","type":"quantitative","scale":{"type":"log","domain":[0.836,143],"nice":false}},"y":{"field":"k","type":"quantitative","scale":{"domain":[0.3,7.3],"reverse":true,"nice":false},"axis":null},"order":{"field":"k"}}},
   {"data":{"name":"C_surv"},"mark":{"type":"line","color":"#CD6A1B","strokeWidth":1.8,"strokeDash":[5,4],"clip":true},"encoding":{"x":{"field":"hi","type":"quantitative","scale":{"type":"log","domain":[0.836,143],"nice":false}},"y":{"field":"k","type":"quantitative","scale":{"domain":[0.3,7.3],"reverse":true,"nice":false},"axis":null},"order":{"field":"k"}}},
   {"data":{"name":"C_surv"},"mark":{"type":"line","color":"#CD6A1B","strokeWidth":3.6,"clip":true},"encoding":{"x":{"field":"e","type":"quantitative","scale":{"type":"log","domain":[0.836,143],"nice":false},"axis":{"values":[1,2,6,12,24,36,120],"format":"~g"},"title":"3"},"y":{"field":"k","type":"quantitative","scale":{"domain":[0.3,7.3],"reverse":true,"nice":false},"axis":null},"order":{"field":"k"}}}
  ]},
  {"width":117,"height":117,"title":"onset timing (weeks)","layer":[
   {"data":{"name":"cats"},"transform":[{"filter":"datum.k>1&&datum.k<7"}],"mark":{"type":"rule","color":"#333","strokeWidth":0.9,"strokeDash":[1,2.6]},"encoding":{"y":{"field":"k","type":"quantitative","scale":{"domain":[0.3,7.3],"reverse":true,"nice":false},"axis":null}}},
   {"data":{"name":"cats"},"transform":[{"filter":"datum.k==1||datum.k==7"}],"mark":{"type":"rule","color":"#111","strokeWidth":1.5,"strokeDash":[1.5,2.5]},"encoding":{"y":{"field":"k","type":"quantitative","scale":{"domain":[0.3,7.3],"reverse":true,"nice":false},"axis":null}}},
   {"data":{"name":"cats"},"mark":{"type":"text","align":"left","baseline":"middle","dy":-6,"fontSize":6,"color":"#a6a6a6"},"encoding":{"x":{"datum":4.36,"type":"quantitative","scale":{"domain":[0.63,9.37],"nice":false,"zero":false}},"y":{"field":"k","type":"quantitative","scale":{"domain":[0.3,7.3],"reverse":true,"nice":false},"axis":null},"text":{"field":"c"}}},
   {"data":{"name":"C_on"},"mark":{"type":"line","color":"#CD6A1B","strokeWidth":0.9,"strokeDash":[1,2],"clip":true},"encoding":{"x":{"field":"mn","type":"quantitative","scale":{"domain":[0.63,9.37],"nice":false,"zero":false}},"y":{"field":"k","type":"quantitative","scale":{"domain":[0.3,7.3],"reverse":true,"nice":false},"axis":null},"order":{"field":"k"}}},
   {"data":{"name":"C_on"},"mark":{"type":"line","color":"#CD6A1B","strokeWidth":0.9,"strokeDash":[1,2],"clip":true},"encoding":{"x":{"field":"mx","type":"quantitative","scale":{"domain":[0.63,9.37],"nice":false,"zero":false}},"y":{"field":"k","type":"quantitative","scale":{"domain":[0.3,7.3],"reverse":true,"nice":false},"axis":null},"order":{"field":"k"}}},
   {"data":{"name":"C_on"},"mark":{"type":"line","color":"#CD6A1B","strokeWidth":1.8,"strokeDash":[5,4],"clip":true},"encoding":{"x":{"field":"lo","type":"quantitative","scale":{"domain":[0.63,9.37],"nice":false,"zero":false}},"y":{"field":"k","type":"quantitative","scale":{"domain":[0.3,7.3],"reverse":true,"nice":false},"axis":null},"order":{"field":"k"}}},
   {"data":{"name":"C_on"},"mark":{"type":"line","color":"#CD6A1B","strokeWidth":1.8,"strokeDash":[5,4],"clip":true},"encoding":{"x":{"field":"hi","type":"quantitative","scale":{"domain":[0.63,9.37],"nice":false,"zero":false}},"y":{"field":"k","type":"quantitative","scale":{"domain":[0.3,7.3],"reverse":true,"nice":false},"axis":null},"order":{"field":"k"}}},
   {"data":{"name":"C_on"},"mark":{"type":"line","color":"#CD6A1B","strokeWidth":3.6,"clip":true},"encoding":{"x":{"field":"e","type":"quantitative","scale":{"domain":[0.63,9.37],"nice":false,"zero":false},"axis":{"values":[1,3,5,7,9]},"title":"4"},"y":{"field":"k","type":"quantitative","scale":{"domain":[0.3,7.3],"reverse":true,"nice":false},"axis":null},"order":{"field":"k"}}}
  ]},
  {"width":117,"height":117,"title":"HR (95%CI)","layer":[
   {"data":{"name":"cats"},"transform":[{"filter":"datum.k>1&&datum.k<7"}],"mark":{"type":"rule","color":"#333","strokeWidth":0.9,"strokeDash":[1,2.6]},"encoding":{"y":{"field":"k","type":"quantitative","scale":{"domain":[0.3,7.3],"reverse":true,"nice":false},"axis":null}}},
   {"data":{"name":"cats"},"transform":[{"filter":"datum.k==1||datum.k==7"}],"mark":{"type":"rule","color":"#111","strokeWidth":1.5,"strokeDash":[1.5,2.5]},"encoding":{"y":{"field":"k","type":"quantitative","scale":{"domain":[0.3,7.3],"reverse":true,"nice":false},"axis":null}}},
   {"data":{"name":"cats"},"mark":{"type":"text","align":"left","baseline":"middle","dy":-6,"fontSize":6,"color":"#a6a6a6"},"encoding":{"x":{"datum":2.68,"type":"quantitative","scale":{"type":"log","domain":[0.4,29.8],"nice":false}},"y":{"field":"k","type":"quantitative","scale":{"domain":[0.3,7.3],"reverse":true,"nice":false},"axis":null},"text":{"field":"c"}}},
   {"data":{"values":[{}]},"mark":{"type":"rule","color":"#000","strokeWidth":2.6,"strokeDash":[2.6,5.6]},"encoding":{"x":{"datum":1,"type":"quantitative","scale":{"type":"log","domain":[0.4,29.8],"nice":false}}}},
   {"data":{"name":"C_hr"},"mark":{"type":"rule","color":"#CD6A1B","strokeWidth":1},"encoding":{"x":{"field":"lo","type":"quantitative","scale":{"type":"log","domain":[0.4,29.8],"nice":false}},"x2":{"field":"hi"},"y":{"field":"k","type":"quantitative","scale":{"domain":[0.3,7.3],"reverse":true,"nice":false},"axis":null}}},
   {"data":{"name":"C_hr"},"mark":{"type":"line","color":"#333","strokeWidth":0.9,"strokeDash":[3,3],"clip":true},"encoding":{"x":{"field":"klo","type":"quantitative","scale":{"type":"log","domain":[0.4,29.8],"nice":false}},"y":{"field":"k","type":"quantitative","scale":{"domain":[0.3,7.3],"reverse":true,"nice":false},"axis":null},"order":{"field":"k"}}},
   {"data":{"name":"C_hr"},"mark":{"type":"line","color":"#333","strokeWidth":0.9,"strokeDash":[3,3],"clip":true},"encoding":{"x":{"field":"khi","type":"quantitative","scale":{"type":"log","domain":[0.4,29.8],"nice":false}},"y":{"field":"k","type":"quantitative","scale":{"domain":[0.3,7.3],"reverse":true,"nice":false},"axis":null},"order":{"field":"k"}}},
   {"data":{"name":"C_hr"},"mark":{"type":"line","color":"#bbbbbb","strokeWidth":0.9,"clip":true},"encoding":{"x":{"field":"g","type":"quantitative","scale":{"type":"log","domain":[0.4,29.8],"nice":false}},"y":{"field":"k","type":"quantitative","scale":{"domain":[0.3,7.3],"reverse":true,"nice":false},"axis":null},"order":{"field":"k"}}},
   {"data":{"name":"C_hr"},"mark":{"type":"line","color":"#CD6A1B","strokeWidth":1.8,"strokeDash":[5,4],"clip":true},"encoding":{"x":{"field":"lo","type":"quantitative","scale":{"type":"log","domain":[0.4,29.8],"nice":false}},"y":{"field":"k","type":"quantitative","scale":{"domain":[0.3,7.3],"reverse":true,"nice":false},"axis":null},"order":{"field":"k"}}},
   {"data":{"name":"C_hr"},"mark":{"type":"line","color":"#CD6A1B","strokeWidth":1.8,"strokeDash":[5,4],"clip":true},"encoding":{"x":{"field":"hi","type":"quantitative","scale":{"type":"log","domain":[0.4,29.8],"nice":false}},"y":{"field":"k","type":"quantitative","scale":{"domain":[0.3,7.3],"reverse":true,"nice":false},"axis":null},"order":{"field":"k"}}},
   {"data":{"name":"C_hr"},"mark":{"type":"line","color":"#CD6A1B","strokeWidth":3.6,"clip":true},"encoding":{"x":{"field":"e","type":"quantitative","scale":{"type":"log","domain":[0.4,29.8],"nice":false},"axis":{"values":[1,2,4,8,14,24],"format":"~g"},"title":"5"},"y":{"field":"k","type":"quantitative","scale":{"domain":[0.3,7.3],"reverse":true,"nice":false},"axis":null},"order":{"field":"k"}}}
  ]},
  {"width":120,"height":117,"title":"P-value","layer":[
   {"data":{"name":"cats"},"transform":[{"filter":"datum.k>1&&datum.k<7"}],"mark":{"type":"rule","color":"#333","strokeWidth":0.9,"strokeDash":[1,2.6]},"encoding":{"y":{"field":"k","type":"quantitative","scale":{"domain":[0.3,7.3],"reverse":true,"nice":false},"axis":null}}},
   {"data":{"name":"cats"},"transform":[{"filter":"datum.k==1||datum.k==7"}],"mark":{"type":"rule","color":"#111","strokeWidth":1.5,"strokeDash":[1.5,2.5]},"encoding":{"y":{"field":"k","type":"quantitative","scale":{"domain":[0.3,7.3],"reverse":true,"nice":false},"axis":null}}},
   {"data":{"name":"cats"},"mark":{"type":"text","align":"left","baseline":"middle","dy":-6,"fontSize":6,"color":"#a6a6a6"},"encoding":{"x":{"datum":0.005,"type":"quantitative","scale":{"type":"log","domain":[0.000055,1.8],"nice":false}},"y":{"field":"k","type":"quantitative","scale":{"domain":[0.3,7.3],"reverse":true,"nice":false},"axis":null},"text":{"field":"c"}}},
   {"data":{"values":[{}]},"mark":{"type":"rule","color":"#000","strokeWidth":1.2,"strokeDash":[1.2,3]},"encoding":{"x":{"datum":0.01,"type":"quantitative","scale":{"type":"log","domain":[0.000055,1.8],"nice":false}}}},
   {"data":{"values":[{}]},"mark":{"type":"rule","color":"#000","strokeWidth":2.6,"strokeDash":[2.6,5.6]},"encoding":{"x":{"datum":0.05,"type":"quantitative","scale":{"type":"log","domain":[0.000055,1.8],"nice":false}}}},
   {"data":{"name":"C_p"},"mark":{"type":"line","color":"#333","strokeWidth":1.1,"clip":true},"encoding":{"x":{"field":"b","type":"quantitative","scale":{"type":"log","domain":[0.000055,1.8],"nice":false},"axis":{"values":[0.0001,0.001,0.01,0.05,0.2,1],"format":"~g"},"title":"6"},"y":{"field":"k","type":"quantitative","scale":{"domain":[0.3,7.3],"reverse":true,"nice":false},"axis":null},"order":{"field":"k"}}},
   {"data":{"name":"C_p"},"mark":{"type":"line","color":"#CD6A1B","strokeWidth":1.4,"clip":true},"encoding":{"x":{"field":"o","type":"quantitative","scale":{"type":"log","domain":[0.000055,1.8],"nice":false}},"y":{"field":"k","type":"quantitative","scale":{"domain":[0.3,7.3],"reverse":true,"nice":false},"axis":null},"order":{"field":"k"}}}
  ]}
]
}
